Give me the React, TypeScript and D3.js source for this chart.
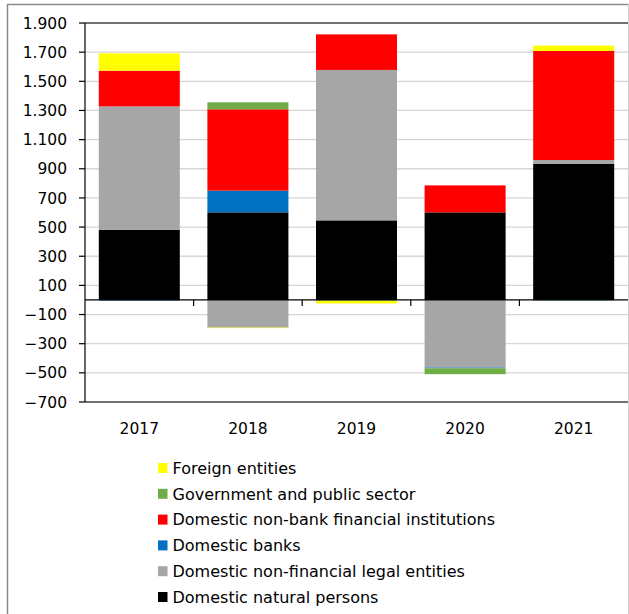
import React from "react";
import * as d3 from "d3";

const years = ["2017", "2018", "2019", "2020", "2021"];
const naturalPersons = [482, 601, 546, 601, 933];
const nonFinancialLegal = [846, -190, 1032, -464, 27];
const domesticBanks = [-4, 149, -4, -5, -2];
const nonBankFinancial = [245, 558, 244, 185, 748];
const government = [0, 48, 0, -40, -2];
const foreignEntities = [119, -3, -20, 0, 37];
const yTicks = [-700, -500, -300, -100, 100, 300, 500, 700, 900, 1100, 1300, 1500, 1700, 1900];

const seriesKeys = ["natural", "nonfin", "banks", "nonbank", "gov", "foreign"];
const seriesNames: Record<string, string> = {
  natural: "Domestic natural persons",
  nonfin: "Domestic non-financial legal entities",
  banks: "Domestic banks",
  nonbank: "Domestic non-bank financial institutions",
  gov: "Government and public sector",
  foreign: "Foreign entities",
};
const seriesColors: Record<string, string> = {
  natural: "#000000",
  nonfin: "#A6A6A6",
  banks: "#0070C0",
  nonbank: "#FF0000",
  gov: "#70AD47",
  foreign: "#FFFF00",
};
const legendOrder = ["foreign", "gov", "nonbank", "banks", "nonfin", "natural"];

const W = 629;
const H = 614;
const plot = { left: 85, right: 628, top: 23, bottom: 402 };
const FONT = "DejaVu Sans, Verdana, sans-serif";

export default function App() {
  const rows = years.map((y, i) => ({
    year: y,
    natural: naturalPersons[i],
    nonfin: nonFinancialLegal[i],
    banks: domesticBanks[i],
    nonbank: nonBankFinancial[i],
    gov: government[i],
    foreign: foreignEntities[i],
  }));
  const stacked = d3
    .stack<any>()
    .keys(seriesKeys)
    .offset(d3.stackOffsetDiverging)(rows);

  const x = d3
    .scaleBand<string>()
    .domain(years)
    .range([plot.left, plot.right])
    .paddingInner(0.254)
    .paddingOuter(0.127);
  const y = d3.scaleLinear().domain([-700, 1900]).range([plot.bottom, plot.top]);
  const locale = d3.formatLocale({ decimal: ",", thousands: ".", grouping: [3], currency: ["", ""] });
  const fmt = locale.format(",d");
  const step = x.step();
  const boundaries = years.slice(1).map((yr) => (x(yr) as number) - (step - x.bandwidth()) / 2);

  return (
    <svg width={W} height={H} style={{ position: "absolute", left: 0, top: 0, background: "#fff" }}>
      <rect x={0} y={0} width={W} height={H} fill="#fff" />
      {/* outer border */}
      <line x1={7} y1={4.5} x2={W} y2={4.5} stroke="#8a8a8a" strokeWidth={1.5} />
      <line x1={7.5} y1={4} x2={7.5} y2={H} stroke="#8a8a8a" strokeWidth={1.5} />
      <line x1={628.5} y1={4} x2={628.5} y2={H} stroke="#d0d0d0" strokeWidth={1} />
      {/* gridlines */}
      {yTicks.map((t) => (
        <line key={t} x1={plot.left} x2={plot.right} y1={y(t)} y2={y(t)} stroke="#d6d6d6" strokeWidth={1.3} />
      ))}
      {/* bars */}
      {stacked.map((s) => (
        <g key={s.key} fill={seriesColors[s.key]}>
          {s.map((d, i) => {
            const y0 = y(d[0]);
            const y1 = y(d[1]);
            const top = Math.min(y0, y1);
            const h = Math.abs(y0 - y1);
            if (h <= 0) return null;
            return <rect key={i} x={x(years[i])} y={top} width={x.bandwidth()} height={h} />;
          })}
        </g>
      ))}
      {/* plot frame */}
      <line x1={plot.left} x2={plot.right} y1={plot.top} y2={plot.top} stroke="#000" strokeWidth={1.2} />
      <line x1={plot.left} x2={plot.right} y1={plot.bottom} y2={plot.bottom} stroke="#000" strokeWidth={1.2} />
      <line x1={plot.left} x2={plot.left} y1={plot.top} y2={plot.bottom} stroke="#000" strokeWidth={1.2} />
      {/* zero axis */}
      <line x1={plot.left} x2={plot.right} y1={y(0)} y2={y(0)} stroke="#000" strokeWidth={1.2} />
      {boundaries.map((b, i) => (
        <line key={i} x1={b} x2={b} y1={y(0)} y2={y(0) + 6} stroke="#000" strokeWidth={1.2} />
      ))}
      {/* y ticks */}
      {yTicks.map((t) => (
        <g key={t}>
          <line x1={plot.left - 6} x2={plot.left} y1={y(t)} y2={y(t)} stroke="#000" strokeWidth={1.2} />
          <text x={67} y={y(t)} dy="0.36em" textAnchor="end" fontFamily={FONT} fontSize={15.5} fill="#000">
            {fmt(t)}
          </text>
        </g>
      ))}
      {/* x labels */}
      {years.map((yr) => (
        <text
          key={yr}
          x={(x(yr) as number) + x.bandwidth() / 2}
          y={434}
          textAnchor="middle"
          fontFamily={FONT}
          fontSize={15.5}
          fill="#000"
        >
          {yr}
        </text>
      ))}
      {/* legend */}
      {legendOrder.map((k, i) => {
        const cy = 468 + i * 25.8;
        return (
          <g key={k}>
            <rect x={158} y={cy - 5} width={9.5} height={10} fill={seriesColors[k]} />
            <text x={172.5} y={cy} dy="0.36em" fontFamily={FONT} fontSize={16} fill="#000">
              {seriesNames[k]}
            </text>
          </g>
        );
      })}
    </svg>
  );
}
